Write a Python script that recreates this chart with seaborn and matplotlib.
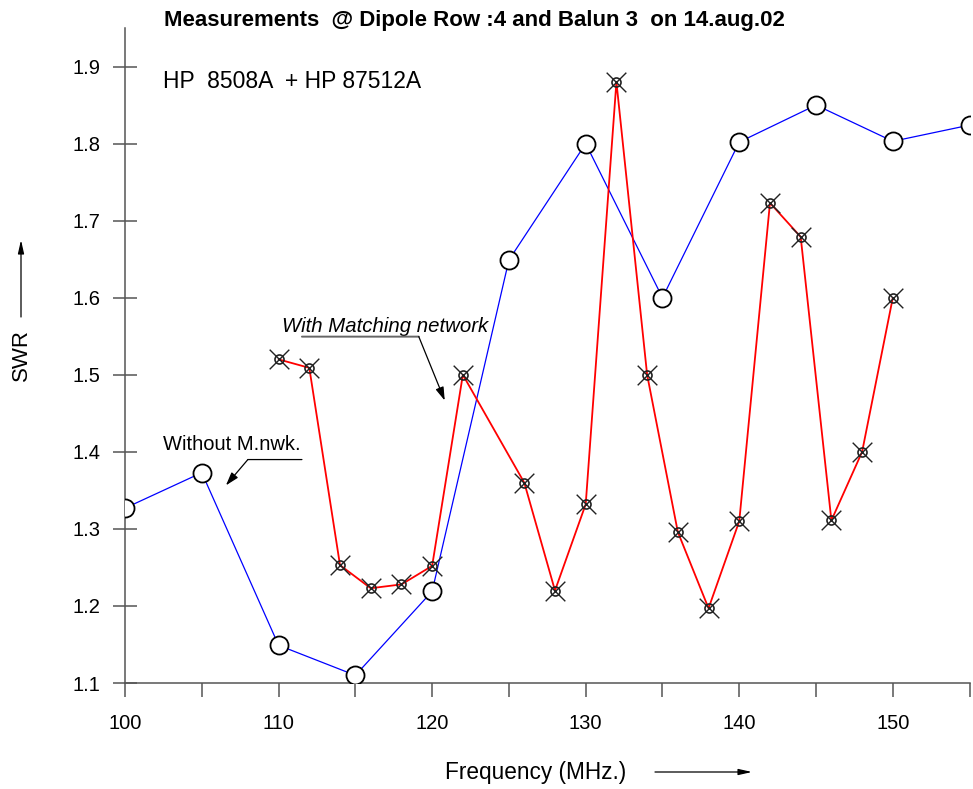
import numpy as np
import pandas as pd
import matplotlib
matplotlib.use("Agg")
import matplotlib.pyplot as plt
import seaborn as sns

# data
freq_without = [100, 105, 110, 115, 120, 125, 130, 135, 140, 145, 150, 155]
swr_without = [1.327, 1.373, 1.149, 1.110, 1.219, 1.649, 1.800, 1.600, 1.802, 1.850, 1.803, 1.824]

freq_with = [110, 112, 114, 116, 118, 120, 122, 126, 128, 130, 132, 134, 136, 138, 140, 142, 144, 146, 148, 150]
swr_with = [1.520, 1.509, 1.253, 1.223, 1.228, 1.252, 1.500, 1.360, 1.220, 1.332, 1.880, 1.500,
            1.296, 1.197, 1.310, 1.723, 1.679, 1.311, 1.400, 1.600]

x_ticks = [100, 105, 110, 115, 120, 125, 130, 135, 140, 145, 150, 155]
x_ticklabels = ["100", "", "110", "", "120", "", "130", "", "140", "", "150", ""]
y_ticks = [1.1, 1.2, 1.3, 1.4, 1.5, 1.6, 1.7, 1.8, 1.9]

sns.set_style("white")
plt.rcParams["font.family"] = ["Liberation Sans", "DejaVu Sans"]
plt.rcParams["text.color"] = "black"

fig = plt.figure(figsize=(9.73, 7.89), dpi=100)
ax = fig.add_axes([0.1285, 0.1343, 0.9965 - 0.1285, 0.9645 - 0.1343])

df_wo = pd.DataFrame({"f": freq_without, "swr": swr_without})
df_w = pd.DataFrame({"f": freq_with, "swr": swr_with})

sns.lineplot(data=df_wo, x="f", y="swr", ax=ax, color="#0000ff", lw=0.9,
             marker="o", markersize=13, markerfacecolor="white",
             markeredgecolor="black", markeredgewidth=1.3, zorder=3)
sns.lineplot(data=df_w, x="f", y="swr", ax=ax, color="#ff0000", lw=1.3,
             marker="o", markersize=6.5, markerfacecolor="none",
             markeredgecolor="#222222", markeredgewidth=1.2, zorder=4)
sns.scatterplot(data=df_w, x="f", y="swr", ax=ax, marker="x", s=200,
                color="#222222", linewidth=1.0, zorder=5)

ax.set_xlim(100, 155)
ax.set_ylim(1.1, 1.95)
ax.set_xticks(x_ticks)
ax.set_xticklabels(x_ticklabels)
ax.set_yticks(y_ticks)
ax.set_yticklabels([f"{v:.1f}" for v in y_ticks])
ax.set_xlabel("")
ax.set_ylabel("")

for s in ["top", "right"]:
    ax.spines[s].set_visible(False)
for s in ["left", "bottom"]:
    ax.spines[s].set_color("#555555")
    ax.spines[s].set_linewidth(1.1)
ax.tick_params(axis="x", direction="out", length=10, width=1.1, color="#555555",
               labelcolor="black", pad=12, labelsize=14.5, bottom=True)
ax.tick_params(axis="y", direction="inout", length=17, width=1.1, color="#555555",
               labelcolor="black", pad=9, labelsize=14.5, left=True)

# texts
fig.text(0.488, 0.9735, "Measurements  @ Dipole Row :4 and Balun 3  on 14.aug.02",
         ha="center", va="center", fontsize=16, fontweight="bold")
ax.text(102.47, 1.881, "HP  8508A  + HP 87512A", ha="left", va="center", fontsize=16.5)

fig.text(0.551, 0.0203, "Frequency (MHz.)", ha="center", va="center", fontsize=16.3)
ax.annotate("", xy=(752 / 973, 1 - 772 / 789), xytext=(655 / 973, 1 - 772 / 789),
            xycoords="figure fraction", textcoords="figure fraction",
            arrowprops=dict(arrowstyle="-|>,head_length=0.8,head_width=0.18",
                            color="black", lw=0.9, shrinkA=0, shrinkB=0))
fig.text(0.0216, 0.55, "SWR", ha="center", va="center", rotation=90, fontsize=16)
ax.annotate("", xy=(21 / 973, 1 - 240 / 789), xytext=(21 / 973, 1 - 317 / 789),
            xycoords="figure fraction", textcoords="figure fraction",
            arrowprops=dict(arrowstyle="-|>,head_length=0.8,head_width=0.18",
                            color="black", lw=0.9, shrinkA=0, shrinkB=0))

# annotations
ax.text(102.47, 1.402, "Without M.nwk.", ha="left", va="baseline", fontsize=14.5)
ax.annotate("", xy=(108.0, 1.390), xytext=(111.52, 1.390),
            arrowprops=dict(arrowstyle="-", color="black", lw=0.9, shrinkA=0, shrinkB=0))
ax.annotate("", xy=(106.57, 1.3565), xytext=(108.0, 1.390),
            arrowprops=dict(arrowstyle="-|>,head_length=0.8,head_width=0.25",
                            color="black", lw=0.9, shrinkA=0, shrinkB=0))

ax.text(110.21, 1.556, "With Matching network", ha="left", va="baseline",
        fontsize=14.7, style="italic")
ax.annotate("", xy=(119.13, 1.5495), xytext=(111.52, 1.5495),
            arrowprops=dict(arrowstyle="-", color="#666666", lw=1.4, shrinkA=0, shrinkB=0))
ax.annotate("", xy=(120.82, 1.4666), xytext=(119.13, 1.5495),
            arrowprops=dict(arrowstyle="-|>,head_length=0.8,head_width=0.25",
                            color="black", lw=0.9, shrinkA=0, shrinkB=0))

fig.savefig("out.png", dpi=100)
